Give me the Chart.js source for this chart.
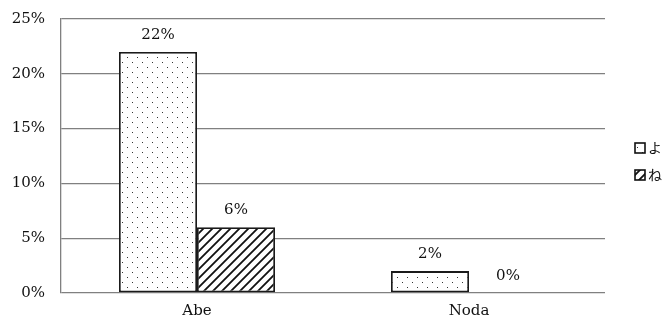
<!DOCTYPE html>
<html>
<head>
<meta charset="utf-8">
<script src="https://cdn.jsdelivr.net/npm/chart.js@4/dist/chart.umd.min.js"></script>
<style>
  html, body { margin: 0; padding: 0; background: #fff; }
  #wrap { width: 668px; height: 324px; }
</style>
</head>
<body>
<div id="wrap"><canvas id="c" width="668" height="324"></canvas></div>
<script>
// Survey shares per politician, two answer groups
const categories = ['Abe', 'Noda'];
const seriesNames = ['よ', 'ね'];
const seriesYo = [22, 2];
const seriesNe = [6, 0];
const yTicks = [0, 5, 10, 15, 20, 25];

const SERIF = '"DejaVu Serif", "Liberation Serif", serif';
const CJK = '"Noto Sans CJK JP", "Noto Sans CJK SC", sans-serif';

// Fill patterns: sparse dots and diagonal hatching
function dotPattern() {
  const c = document.createElement('canvas');
  c.width = 10; c.height = 10;
  const g = c.getContext('2d');
  g.fillStyle = '#fff'; g.fillRect(0, 0, 10, 10);
  g.fillStyle = '#333';
  g.fillRect(2, 2, 1, 1);
  g.fillRect(7, 7, 1, 1);
  return g.createPattern(c, 'repeat');
}
function hatchPattern() {
  const s = 9;
  const c = document.createElement('canvas');
  c.width = s; c.height = s;
  const g = c.getContext('2d');
  g.fillStyle = '#fff'; g.fillRect(0, 0, s, s);
  g.strokeStyle = '#111';
  g.lineWidth = 1.8;
  g.beginPath();
  g.moveTo(-1, s + 1); g.lineTo(s + 1, -1);
  g.moveTo(-1, 1); g.lineTo(1, -1);
  g.moveTo(s - 1, s + 1); g.lineTo(s + 1, s - 1);
  g.stroke();
  return g.createPattern(c, 'repeat');
}

// Value labels above every bar
const valueLabels = {
  id: 'valueLabels',
  afterDatasetsDraw(chart) {
    const ctx = chart.ctx;
    ctx.save();
    ctx.font = '15px ' + SERIF;
    ctx.fillStyle = '#111';
    ctx.textAlign = 'center';
    ctx.textBaseline = 'middle';
    chart.data.datasets.forEach((ds, i) => {
      chart.getDatasetMeta(i).data.forEach((bar, j) => {
        ctx.fillText(ds.data[j] + '%', bar.x, bar.y - 17);
      });
    });
    ctx.restore();
  }
};

// Legend column on the right side
const sideLegend = {
  id: 'sideLegend',
  afterDraw(chart) {
    const ctx = chart.ctx;
    const x = 635, y0 = 143, step = 27, box = 10;
    ctx.save();
    chart.data.datasets.forEach((ds, i) => {
      const y = y0 + i * step;
      ctx.fillStyle = ds.backgroundColor;
      ctx.fillRect(x, y, box, box);
      ctx.strokeStyle = '#111';
      ctx.lineWidth = 1.6;
      ctx.strokeRect(x, y, box, box);
      ctx.fillStyle = '#111';
      ctx.font = '14px ' + CJK;
      ctx.textAlign = 'left';
      ctx.textBaseline = 'middle';
      ctx.fillText(ds.label, x + 13, y + box / 2);
    });
    ctx.restore();
  }
};

new Chart(document.getElementById('c'), {
  type: 'bar',
  data: {
    labels: categories,
    datasets: [
      { label: seriesNames[0], data: seriesYo, backgroundColor: dotPattern(),
        borderColor: '#1a1a1a', borderWidth: 1.8, borderSkipped: false },
      { label: seriesNames[1], data: seriesNe, backgroundColor: hatchPattern(),
        borderColor: '#1a1a1a', borderWidth: 1.8, borderSkipped: false }
    ]
  },
  options: {
    responsive: false,
    animation: false,
    devicePixelRatio: 1,
    layout: { padding: { top: 0, right: 63, bottom: 0, left: 0 } },
    datasets: { bar: { barPercentage: 1, categoryPercentage: 0.5735 } },
    plugins: {
      legend: { display: false },
      tooltip: { enabled: false }
    },
    scales: {
      x: {
        grid: { display: false, drawTicks: false },
        border: { display: false },
        ticks: { color: '#111', font: { family: SERIF, size: 15 }, padding: 9 },
        afterFit(s) { s.height = 31; }
      },
      y: {
        min: 0, max: 25,
        afterBuildTicks(s) { s.ticks = yTicks.map(v => ({ value: v })); },
        grid: { color: '#808080', lineWidth: 1.3, drawTicks: false },
        border: { color: '#808080', width: 1.3 },
        ticks: {
          color: '#111', font: { family: SERIF, size: 15 }, padding: 16,
          callback: v => v + '%'
        },
        afterFit(s) { s.width = 61; s.paddingTop = 19; }
      }
    }
  },
  plugins: [valueLabels, sideLegend]
});
</script>
</body>
</html>
